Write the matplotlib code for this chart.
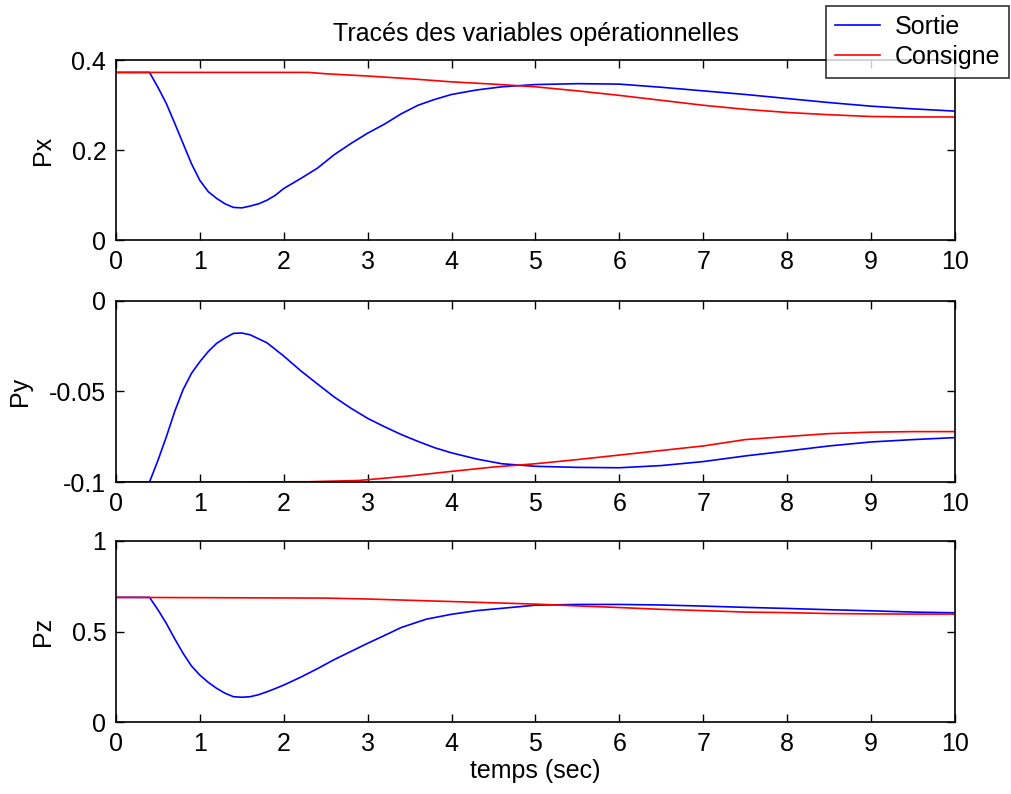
import matplotlib
matplotlib.use("Agg")
import matplotlib.pyplot as plt

plt.rcParams['font.family'] = ['Liberation Sans', 'DejaVu Sans']
plt.rcParams['axes.unicode_minus'] = False

# Px
t_px_sortie = [0, 0.4, 0.5, 0.6, 0.7, 0.8, 0.9, 1.0, 1.1, 1.2, 1.3, 1.4, 1.5, 1.6, 1.7, 1.8, 1.9, 2.0,
               2.2, 2.4, 2.6, 2.8, 3.0, 3.2, 3.4, 3.6, 3.8, 4.0, 4.3, 4.6, 5.0, 5.5, 6.0, 6.5, 7.0,
               7.5, 8.0, 8.5, 9.0, 9.5, 10]
px_sortie = [0.373, 0.373, 0.34, 0.304, 0.26, 0.215, 0.17, 0.133, 0.108, 0.093, 0.081, 0.073, 0.072,
             0.076, 0.081, 0.089, 0.1, 0.115, 0.137, 0.16, 0.19, 0.215, 0.238, 0.258, 0.281, 0.3,
             0.313, 0.324, 0.334, 0.341, 0.346, 0.348, 0.347, 0.34, 0.332, 0.324, 0.315, 0.306,
             0.298, 0.292, 0.287]
t_px_consigne = [0, 2.3, 2.5, 3.0, 3.5, 4.0, 4.5, 5.0, 5.5, 6.0, 6.5, 7.0, 7.5, 8.0, 8.5, 9.0, 9.5, 10]
px_consigne = [0.373, 0.373, 0.370, 0.365, 0.359, 0.352, 0.347, 0.341, 0.332, 0.322, 0.311, 0.3,
               0.291, 0.284, 0.279, 0.275, 0.274, 0.274]

# Py
t_py_sortie = [0, 0.4, 0.5, 0.6, 0.7, 0.8, 0.9, 1.0, 1.1, 1.2, 1.3, 1.4, 1.5, 1.6, 1.8, 2.0, 2.2,
               2.4, 2.6, 2.8, 3.0, 3.2, 3.4, 3.6, 3.8, 4.0, 4.3, 4.6, 5.0, 5.5, 6.0, 6.5, 7.0, 7.5,
               8.0, 8.5, 9.0, 9.5, 10]
py_sortie = [-0.1, -0.0998, -0.088, -0.075, -0.061, -0.049, -0.04, -0.0336, -0.028, -0.0235,
             -0.0205, -0.018, -0.0178, -0.0188, -0.0232, -0.0305, -0.0385, -0.0458, -0.053,
             -0.0592, -0.0648, -0.0694, -0.0737, -0.0775, -0.081, -0.0838, -0.0872, -0.0898,
             -0.0912, -0.0918, -0.092, -0.0908, -0.0886, -0.0855, -0.0828, -0.080, -0.0778,
             -0.0765, -0.0754]
t_py_consigne = [0, 2.3, 2.9, 3.5, 4.0, 4.5, 5.0, 5.5, 6.0, 6.5, 7.0, 7.5, 8.0, 8.5, 9.0, 9.5, 10]
py_consigne = [-0.1, -0.0997, -0.099, -0.0965, -0.094, -0.0916, -0.0898, -0.0875, -0.085, -0.0825,
               -0.080, -0.0765, -0.0748, -0.0732, -0.0724, -0.0721, -0.0721]

# Pz
t_pz_sortie = [0, 0.4, 0.5, 0.6, 0.7, 0.8, 0.9, 1.0, 1.1, 1.2, 1.3, 1.4, 1.5, 1.6, 1.7, 1.8, 1.9,
               2.0, 2.2, 2.4, 2.6, 2.8, 3.0, 3.2, 3.4, 3.7, 4.0, 4.3, 4.7, 5.0, 5.5, 6.0, 6.5, 7.0,
               7.5, 8.0, 8.5, 9.0, 9.5, 10]
pz_sortie = [0.688, 0.688, 0.62, 0.545, 0.46, 0.38, 0.31, 0.26, 0.22, 0.187, 0.16, 0.141, 0.138,
             0.141, 0.152, 0.168, 0.186, 0.205, 0.248, 0.295, 0.345, 0.39, 0.435, 0.478, 0.522,
             0.568, 0.595, 0.615, 0.632, 0.645, 0.649, 0.649, 0.646, 0.64, 0.633, 0.627, 0.62,
             0.614, 0.607, 0.603]
t_pz_consigne = [0, 2.5, 3.0, 3.5, 4.0, 4.5, 5.0, 5.5, 6.0, 6.5, 7.0, 7.5, 8.0, 8.5, 9.0, 9.5, 10]
pz_consigne = [0.688, 0.684, 0.679, 0.672, 0.665, 0.658, 0.651, 0.641, 0.632, 0.622, 0.615, 0.607,
               0.604, 0.599, 0.597, 0.596, 0.596]

x_ticks = [0, 1, 2, 3, 4, 5, 6, 7, 8, 9, 10]
yticks_px = [0, 0.2, 0.4]
ylabels_px = ["0", "0.2", "0.4"]
yticks_py = [-0.1, -0.05, 0]
ylabels_py = ["-0.1", "-0.05", "0"]
yticks_pz = [0, 0.5, 1]
ylabels_pz = ["0", "0.5", "1"]

fig = plt.figure(figsize=(10.12, 7.94), dpi=100)
ax1 = fig.add_axes([0.1146, 0.6974, 0.829, 0.2267])
ax2 = fig.add_axes([0.1146, 0.3926, 0.829, 0.2287])
ax3 = fig.add_axes([0.1146, 0.0903, 0.829, 0.2287])

panels = [
    (ax1, t_px_sortie, px_sortie, t_px_consigne, px_consigne, yticks_px, ylabels_px, "Px"),
    (ax2, t_py_sortie, py_sortie, t_py_consigne, py_consigne, yticks_py, ylabels_py, "Py"),
    (ax3, t_pz_sortie, pz_sortie, t_pz_consigne, pz_consigne, yticks_pz, ylabels_pz, "Pz"),
]

for ax, ts, ys, tc, yc, yt, yl, name in panels:
    l1, = ax.plot(ts, ys, color=(0, 0, 1), lw=1.2, label="Sortie")
    l2, = ax.plot(tc, yc, color=(1, 0, 0), lw=1.2, label="Consigne")
    ax.set_xlim(0, 10)
    ax.set_ylim(yt[0], yt[-1])
    ax.set_xticks(x_ticks)
    ax.set_yticks(yt)
    ax.set_yticklabels(yl)
    ax.tick_params(direction='in', top=True, right=True, length=6, width=1,
                   labelsize=18, pad=7)
    ax.set_ylabel(name, fontsize=18, labelpad=12)
    for s in ax.spines.values():
        s.set_linewidth(1.2)

ax1.set_title("Tracés des variables opérationnelles", fontsize=18, pad=14)
ax3.set_xlabel("temps (sec)", fontsize=18, labelpad=2)

leg = fig.legend([l1, l2], ["Sortie", "Consigne"], loc='upper left',
                 bbox_to_anchor=(826 / 1012, 1 - 6 / 794), fontsize=18,
                 frameon=True, fancybox=False, handlelength=1.8, handletextpad=0.6,
                 labelspacing=0.25, borderpad=0.35, borderaxespad=0)
leg.get_frame().set_edgecolor('black')
leg.get_frame().set_linewidth(1.2)

fig.savefig("out.png", dpi=100)
